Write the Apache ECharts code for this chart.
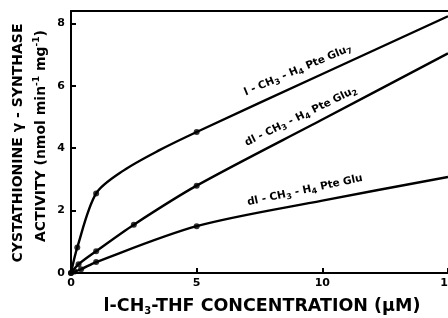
<!DOCTYPE html>
<html><head><meta charset="utf-8">
<script src="https://cdn.jsdelivr.net/npm/echarts@6/dist/echarts.min.js"></script>
<style>html,body{margin:0;padding:0;background:#fff}#c{width:448px;height:318px}</style>
</head><body><div id="c"></div>
<script>
// ---- data ----
const xTicks = [0, 5, 10, 15];
const yTicks = [0, 2, 4, 6, 8];
// measured points (filled circles)
const glu7Points = [[0, 0], [0.25, 0.82], [1, 2.55], [5, 4.52]];
const glu2Points = [[0, 0], [0.3, 0.28], [1, 0.7], [2.5, 1.55], [5, 2.8]];
const glu1Points = [[0.15, 0.05], [0.4, 0.12], [1, 0.35], [5, 1.5]];
// drawn curves
const glu7Curve = [[0, 0], [0.25, 0.82], [1, 2.55], [2.1, 3.29], [3.5, 3.93], [5, 4.52], [10, 6.38], [15, 8.23]];
const glu2Curve = [[0, 0], [0.3, 0.28], [1, 0.7], [2.5, 1.55], [5, 2.8], [10, 4.92], [15, 7.04]];
const glu1Curve = [[0, 0], [0.4, 0.12], [1, 0.35], [5, 1.5], [10, 2.32], [15, 3.08]];
// curve labels: text parts, anchor in data coords
const curveLabels = [
  { parts: [['m', 'l - CH'], ['s', '3'], ['m', ' - H'], ['s', '4'], ['m', ' Pte Glu'], ['s', '7']], at: [9.03, 6.5], angle: 23 },
  { parts: [['m', 'dl - CH'], ['s', '3'], ['m', ' - H'], ['s', '4'], ['m', ' Pte Glu'], ['s', '2']], at: [9.15, 5.02], angle: 26 },
  { parts: [['m', 'dl - CH'], ['s', '3'], ['m', ' - H'], ['s', '4'], ['m', ' Pte Glu']], at: [9.31, 2.65], angle: 12 }
];

const FONT = '"DejaVu Sans", "Liberation Sans", sans-serif';
const chart = echarts.init(document.getElementById('c'), null, { renderer: 'canvas' });

function lineSeries(data, smooth) {
  return { type: 'line', data: data, smooth: smooth, showSymbol: false,
    lineStyle: { color: '#000', width: 2.4 }, silent: true, z: 2 };
}
function dotSeries(data) {
  return { type: 'scatter', data: data, symbol: 'circle', symbolSize: 6,
    itemStyle: { color: '#000' }, silent: true, z: 3 };
}
function rich(parts) {
  return parts.map(p => '{' + p[0] + '|' + p[1] + '}').join('');
}

chart.setOption({
  animation: false,
  backgroundColor: '#fff',
  grid: { left: 71, right: 0, top: 11, bottom: 45, containLabel: false, outerBoundsMode: 'none' },
  xAxis: [{
    type: 'value', min: 0, max: 15, interval: 5,
    axisLine: { show: true, lineStyle: { color: '#000', width: 2 } },
    axisTick: { show: true, inside: true, length: 5, lineStyle: { color: '#000', width: 2 }, customValues: xTicks },
    axisLabel: { color: '#000', fontWeight: 'bold', fontSize: 11, fontFamily: FONT, margin: 5, customValues: xTicks, hideOverlap: false },
    splitLine: { show: false }
  }, {
    type: 'value', position: 'top', min: 0, max: 15,
    axisLine: { show: true, onZero: false, lineStyle: { color: '#000', width: 2 } },
    axisTick: { show: false }, axisLabel: { show: false }, splitLine: { show: false }
  }],
  yAxis: {
    type: 'value', min: 0, max: 8.4, interval: 2,
    axisLine: { show: true, lineStyle: { color: '#000', width: 2 } },
    axisTick: { show: true, inside: true, length: 5, lineStyle: { color: '#000', width: 2 }, customValues: yTicks },
    axisLabel: { color: '#000', fontWeight: 'bold', fontSize: 11, fontFamily: FONT, margin: 6, customValues: yTicks },
    splitLine: { show: false }
  },
  series: [
    lineSeries(glu7Curve, 0.3), lineSeries(glu2Curve, 0.3), lineSeries(glu1Curve, 0.3),
    dotSeries(glu7Points), dotSeries(glu2Points), dotSeries(glu1Points)
  ]
});

const subRich = {
  m: { fontSize: 10.5, fontWeight: 'bold', fontFamily: FONT, lineHeight: 14, verticalAlign: 'middle', fill: '#000' },
  s: { fontSize: 8, fontWeight: 'bold', fontFamily: FONT, lineHeight: 8, verticalAlign: 'bottom', fill: '#000' }
};
const graphics = curveLabels.map(l => {
  const p = chart.convertToPixel({ gridIndex: 0 }, l.at);
  return { type: 'text', x: p[0], y: p[1], rotation: l.angle * Math.PI / 180, z: 10,
    style: { text: rich(l.parts), rich: subRich, align: 'center', verticalAlign: 'middle', fill: '#000' } };
});
// axis titles
graphics.push({ type: 'text', x: 18, y: 143, rotation: Math.PI / 2, z: 10,
  style: { text: 'CYSTATHIONINE γ - SYNTHASE', font: 'bold 14px ' + FONT, fill: '#000', align: 'center', verticalAlign: 'middle' } });
graphics.push({ type: 'text', x: 41, y: 136, rotation: Math.PI / 2, z: 10,
  style: { text: '{m|ACTIVITY (nmol min}{p|-1}{m| mg}{p|-1}{m|)}', align: 'center', verticalAlign: 'middle',
    rich: {
      m: { fontSize: 14, fontWeight: 'bold', fontFamily: FONT, lineHeight: 18, verticalAlign: 'middle', fill: '#000' },
      p: { fontSize: 9, fontWeight: 'bold', fontFamily: FONT, lineHeight: 9, verticalAlign: 'top', fill: '#000' }
    } } });
graphics.push({ type: 'text', x: 262, y: 306, z: 10,
  style: { text: '{m|l-CH}{s|3}{m|-THF CONCENTRATION (µM)}', align: 'center', verticalAlign: 'middle',
    rich: {
      m: { fontSize: 17.5, fontWeight: 'bold', fontFamily: FONT, lineHeight: 20, verticalAlign: 'middle', fill: '#000' },
      s: { fontSize: 10, fontWeight: 'bold', fontFamily: FONT, lineHeight: 10, verticalAlign: 'bottom', fill: '#000' }
    } } });
chart.setOption({ graphic: graphics });
</script>
</body></html>
